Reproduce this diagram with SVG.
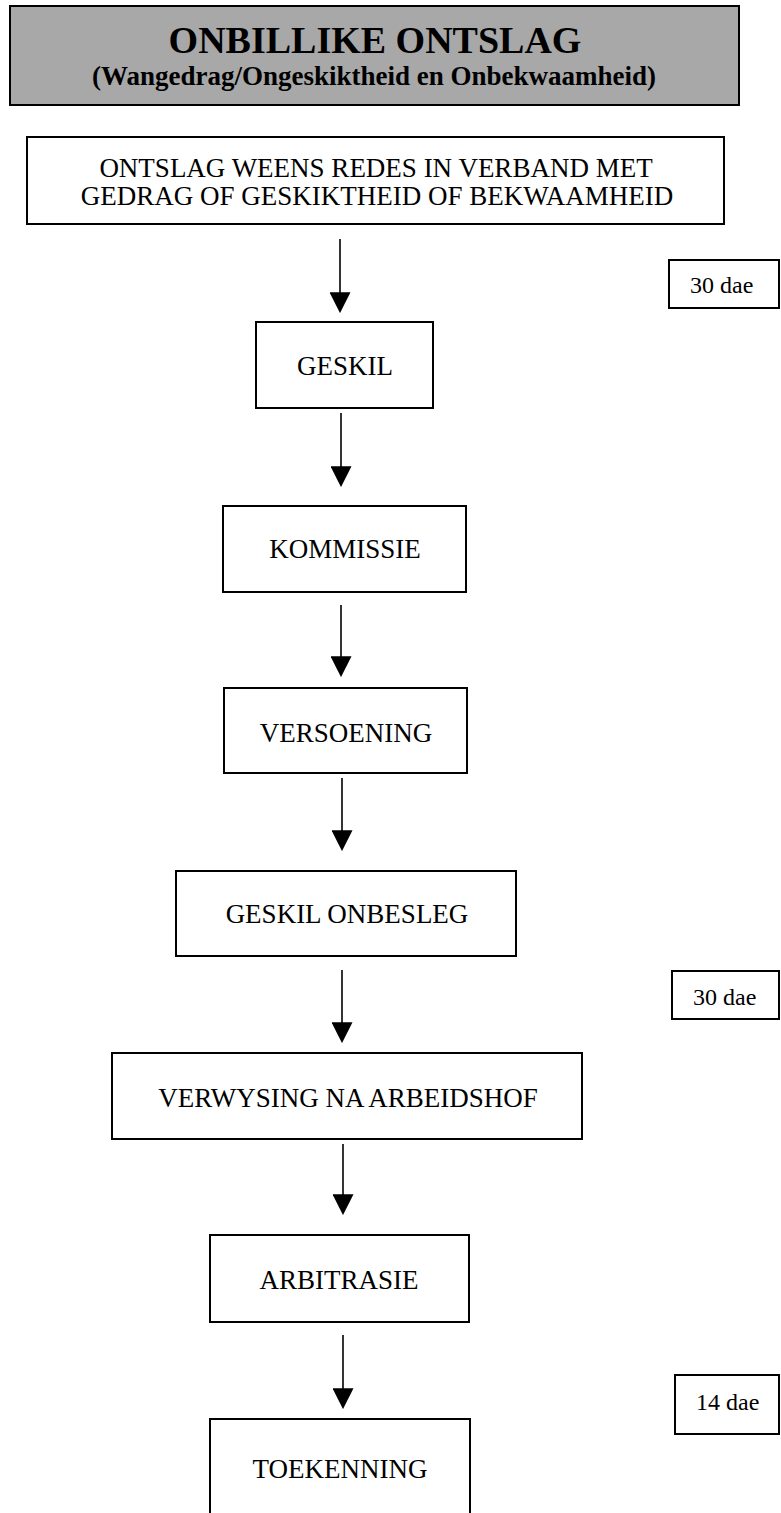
<svg xmlns="http://www.w3.org/2000/svg" width="781" height="1513" viewBox="0 0 781 1513">
<style>
.box{fill:#fff;stroke:#000;stroke-width:2}
.t{font-family:"Liberation Serif","Times New Roman",serif;font-size:27px;fill:#000;text-anchor:middle}
.side{font-family:"Liberation Serif","Times New Roman",serif;font-size:24px;fill:#000}
.conn{stroke:#000;stroke-width:1.6;fill:none}
</style>
<defs>
<marker id="ah" viewBox="0 0 20 20" refX="17" refY="10" markerWidth="21" markerHeight="21" markerUnits="userSpaceOnUse" orient="auto">
<path d="M0,0 L20,10 L0,20 z" fill="#000"/>
</marker>
</defs>
<rect width="781" height="1513" fill="#fff"/>
<g id="title">
<rect x="10" y="6" width="729" height="99" fill="#a8a8a8" stroke="#000" stroke-width="2"/>
<text x="375" y="53" font-family="Liberation Serif,'Times New Roman',serif" font-size="38" font-weight="bold" text-anchor="middle">ONBILLIKE ONTSLAG</text>
<text x="374" y="85" font-family="Liberation Serif,'Times New Roman',serif" font-size="27" font-weight="bold" text-anchor="middle">(Wangedrag/Ongeskiktheid en Onbekwaamheid)</text>
</g>
<g id="ontslag">
<rect class="box" x="27" y="137" width="697" height="87"/>
<text class="t" x="376" y="177">ONTSLAG WEENS REDES IN VERBAND MET</text>
<text class="t" x="377" y="205">GEDRAG OF GESKIKTHEID OF BEKWAAMHEID</text>
</g>
<g id="geskil">
<rect class="box" x="256" y="322" width="177" height="86"/>
<text class="t" x="345" y="375">GESKIL</text>
</g>
<g id="kommissie">
<rect class="box" x="223" y="506" width="243" height="86"/>
<text class="t" x="345" y="558">KOMMISSIE</text>
</g>
<g id="versoening">
<rect class="box" x="224" y="688" width="243" height="85"/>
<text class="t" x="346" y="742">VERSOENING</text>
</g>
<g id="geskil-onbesleg">
<rect class="box" x="176" y="871" width="340" height="85"/>
<text class="t" x="347" y="923">GESKIL ONBESLEG</text>
</g>
<g id="verwysing">
<rect class="box" x="112" y="1053" width="470" height="86"/>
<text class="t" x="348" y="1107">VERWYSING NA ARBEIDSHOF</text>
</g>
<g id="arbitrasie">
<rect class="box" x="210" y="1235" width="259" height="87"/>
<text class="t" x="339" y="1289">ARBITRASIE</text>
</g>
<g id="toekenning">
<rect class="box" x="210" y="1419" width="260" height="110"/>
<text class="t" x="340" y="1478">TOEKENNING</text>
</g>
<g id="dae1">
<rect class="box" x="669" y="260" width="110" height="48"/>
<text class="side" x="690" y="293">30 dae</text>
</g>
<g id="dae2">
<rect class="box" x="672" y="971" width="107" height="48"/>
<text class="side" x="693" y="1005">30 dae</text>
</g>
<g id="dae3">
<rect class="box" x="675" y="1375" width="104" height="59"/>
<text class="side" x="696" y="1410">14 dae</text>
</g>
<g id="connectors">
<path class="conn" d="M340,239 V310" marker-end="url(#ah)"/>
<path class="conn" d="M341,413 V484" marker-end="url(#ah)"/>
<path class="conn" d="M341,605 V674" marker-end="url(#ah)"/>
<path class="conn" d="M342,778 V848" marker-end="url(#ah)"/>
<path class="conn" d="M342,970 V1040" marker-end="url(#ah)"/>
<path class="conn" d="M343,1144 V1212" marker-end="url(#ah)"/>
<path class="conn" d="M343,1335 V1406" marker-end="url(#ah)"/>
</g>
</svg>
